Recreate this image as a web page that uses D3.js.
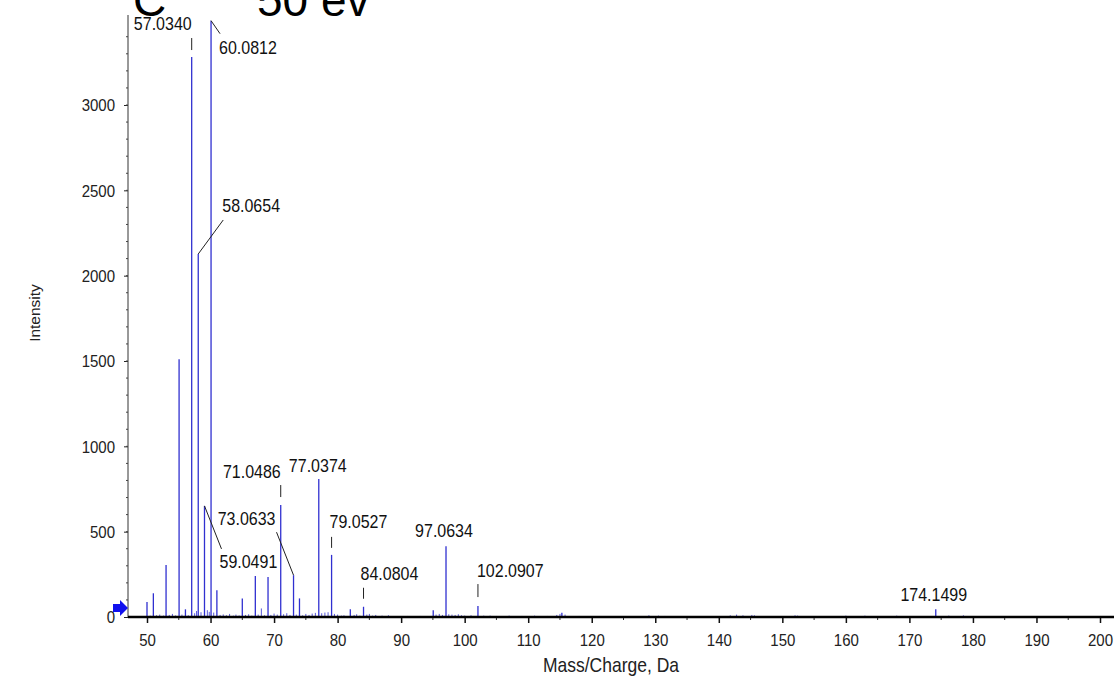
<!DOCTYPE html>
<html>
<head>
<meta charset="utf-8">
<script src="https://cdn.jsdelivr.net/npm/d3@7"></script>
<style>
  body { margin: 0; background: #fff; }
  svg { display: block; font-family: "Liberation Sans", Arial, sans-serif; }
</style>
</head>
<body>
<svg width="1114" height="683"></svg>
<script>
/* spectrum data */

// main peaks: m/z and intensity
var peakMz = [50.0, 51.0, 53.0, 55.05, 56.05, 57.0340, 58.0654, 59.0491, 60.0812, 61.0,
              65.0, 67.05, 69.05, 71.0486, 73.0633, 74.0, 77.0374, 79.0527, 82.0, 84.0804,
              95.05, 97.0634, 102.0907, 115.3, 174.1499];
var peakInt = [88, 139, 305, 1510, 45, 3281, 2127, 651, 3494, 157,
               109, 240, 234, 656, 245, 109, 809, 364, 46, 60,
               39, 415, 64, 25, 45];

// small noise peaks along the baseline
var noiseMz = [50.5, 51.5, 52.0, 52.6, 53.5, 54.0, 54.5, 55.5, 56.5, 57.5, 57.8, 58.5, 59.5, 59.8,
               60.5, 61.5, 62.0, 62.5, 63.0, 63.6, 64.0, 64.5, 65.5, 66.0, 66.5, 67.5, 68.0, 68.5,
               69.5, 70.0, 70.5, 71.5, 72.0, 72.5, 73.5, 74.5, 75.0, 75.5, 76.0, 76.5, 77.5, 78.0,
               78.5, 79.5, 80.0, 80.6, 81.0, 82.6, 83.0, 83.5, 84.6, 85.0, 85.5, 86.0, 87.0, 88.0,
               91.0, 93.0, 95.5, 96.0, 96.5, 97.5, 98.0, 98.5, 99.0, 99.5, 100.0, 101.0, 103.0,
               104.0, 105.0, 107.0, 109.0, 111.0, 113.0, 114.5, 115.0, 115.8, 118.0, 129.0, 130.5,
               131.5, 141.8, 142.8, 143.8, 145.2, 145.6, 152.0, 152.4, 160.0, 163.0, 168.0, 176.2, 178.5];
var noiseInt = [8, 10, 14, 8, 12, 18, 9, 14, 10, 22, 35, 28, 40, 30,
                26, 12, 15, 10, 18, 8, 14, 9, 12, 16, 8, 14, 50, 10,
                12, 20, 14, 16, 22, 12, 14, 10, 18, 12, 20, 24, 22, 26,
                28, 18, 14, 8, 10, 12, 16, 8, 14, 18, 8, 12, 8, 10,
                6, 6, 14, 18, 12, 16, 14, 12, 16, 10, 8, 10, 8,
                8, 6, 8, 6, 8, 6, 12, 18, 14, 6, 10, 8,
                6, 10, 14, 10, 12, 10, 10, 8, 8, 8, 8, 8, 10];

// annotated peaks
var labelMz = [57.0340, 60.0812, 58.0654, 59.0491, 71.0486, 77.0374, 73.0633, 79.0527,
               84.0804, 97.0634, 102.0907, 174.1499];
var labelText = ["57.0340", "60.0812", "58.0654", "59.0491", "71.0486", "77.0374", "73.0633", "79.0527",
                 "84.0804", "97.0634", "102.0907", "174.1499"];

var xTicks = [50, 60, 70, 80, 90, 100, 110, 120, 130, 140, 150, 160, 170, 180, 190, 200];
var yTicks = [0, 500, 1000, 1500, 2000, 2500, 3000];

// label placement relative to the peak top: text offset, anchor, leader segment
var labelLayout = [
  { dx: 0,   dy: -27, anchor: "end",    lead: [0, -19, 0, -7] },
  { dx: 8,   dy: 33,  anchor: "start",  lead: [0, 0, 9, 13] },
  { dx: 24,  dy: -42, anchor: "start",  lead: [0, 0, 25, -34] },
  { dx: 15,  dy: 62,  anchor: "start",  lead: [0, 0, 17, 43] },
  { dx: 0,   dy: -27, anchor: "end",    lead: [0, -20, 0, -8] },
  { dx: -1,  dy: -7,  anchor: "middle", lead: null },
  { dx: -18, dy: -50, anchor: "end",    lead: [0, 0, -17, -43] },
  { dx: -2,  dy: -27, anchor: "start",  lead: [0, -18, 0, -7] },
  { dx: -3,  dy: -27, anchor: "start",  lead: [0, -19, 0, -8] },
  { dx: -2,  dy: -9,  anchor: "middle", lead: null },
  { dx: -1,  dy: -29, anchor: "start",  lead: [0, -22, 0, -9] },
  { dx: -2,  dy: -8,  anchor: "middle", lead: null }
];

var svg = d3.select("svg");
var blue = "#3030d0";
var stretch = "scale(1,1.13)"; // the source image text is a bit taller than wide

var xScale = d3.scaleLinear()
	.domain([50, 200])
	.range([147, 1100]);

var yScale = d3.scaleLinear()
	.domain([0, 3000])
	.range([617, 105]);

var yTop = 15;

// titles
svg.append("text").attr("x", 133).attr("y", 16)
	.attr("font-size", 46).attr("fill", "#000").text("C");
svg.append("text").attr("x", 257).attr("y", 16)
	.attr("font-size", 46).attr("fill", "#000").text("50 ev");

// noise
var noise = noiseMz.map(function(m, i) { return { mz: m, v: noiseInt[i] }; });
svg.append("g").selectAll("line").data(noise).enter().append("line")
	.attr("x1", function(d) { return xScale(d.mz); })
	.attr("x2", function(d) { return xScale(d.mz); })
	.attr("y1", yScale(0))
	.attr("y2", function(d) { return yScale(d.v); })
	.attr("stroke", blue).attr("stroke-width", 1).attr("opacity", 0.8);

// peaks
var peaks = peakMz.map(function(m, i) { return { mz: m, v: peakInt[i] }; });
svg.append("g").selectAll("line").data(peaks).enter().append("line")
	.attr("x1", function(d) { return xScale(d.mz); })
	.attr("x2", function(d) { return xScale(d.mz); })
	.attr("y1", yScale(0))
	.attr("y2", function(d) { return yScale(d.v); })
	.attr("stroke", blue).attr("stroke-width", 1.3);

// y axis
var yAxis = d3.axisLeft(yScale).tickValues(yTicks).tickFormat(d3.format("d")).tickSize(4).tickPadding(9);
var gy = svg.append("g").attr("transform", "translate(128,0)").call(yAxis);
gy.select(".domain").remove();
gy.selectAll("text").attr("font-size", 15).attr("font-family", "Liberation Sans, Arial, sans-serif")
	.attr("fill", "#222").attr("dy", "0.34em").attr("transform", stretch);
gy.selectAll(".tick line").attr("stroke", "#222");
svg.append("line").attr("x1", 128).attr("x2", 128).attr("y1", yTop).attr("y2", yScale(0))
	.attr("stroke", "#333").attr("stroke-width", 1);
// minor y ticks
svg.append("g").selectAll("line").data(d3.range(100, 3500, 100)).enter().append("line")
	.attr("x1", 126).attr("x2", 128)
	.attr("y1", function(d) { return yScale(d); })
	.attr("y2", function(d) { return yScale(d); })
	.attr("stroke", "#444");

// x axis
var xAxis = d3.axisBottom(xScale).tickValues(xTicks).tickSize(6).tickPadding(9);
var gx = svg.append("g").attr("transform", "translate(0," + yScale(0) + ")").call(xAxis);
gx.select(".domain").remove();
gx.selectAll("text").attr("font-size", 15).attr("font-family", "Liberation Sans, Arial, sans-serif")
	.attr("fill", "#222").attr("transform", stretch);
gx.selectAll(".tick line").attr("stroke", "#111").attr("stroke-width", 1.5);
svg.append("g").selectAll("line").data(d3.range(55, 205, 10)).enter().append("line")
	.attr("x1", function(d) { return xScale(d); })
	.attr("x2", function(d) { return xScale(d); })
	.attr("y1", yScale(0)).attr("y2", yScale(0) + 3)
	.attr("stroke", "#333");
svg.append("line").attr("x1", 128).attr("x2", 1114).attr("y1", yScale(0)).attr("y2", yScale(0))
	.attr("stroke", "#000").attr("stroke-width", 2.5);

// zero marker arrow
var ay = yScale(0) - 9;
svg.append("path")
	.attr("d", "M113," + (ay - 4) + "H120V" + (ay - 8) + "L128," + ay + "L120," + (ay + 8) + "V" + (ay + 4) + "H113Z")
	.attr("fill", "#1010ee");

// axis titles
svg.append("text").attr("transform", "translate(40,313) rotate(-90)")
	.attr("text-anchor", "middle").attr("font-size", 15.5).attr("fill", "#222").text("Intensity");
svg.append("text").attr("transform", "translate(611,672) " + stretch)
	.attr("text-anchor", "middle").attr("font-size", 17.5).attr("fill", "#222").text("Mass/Charge, Da");

// annotations
var ann = labelMz.map(function(m, i) {
	var j = peakMz.indexOf(m);
	return { px: xScale(m), py: yScale(peakInt[j]), text: labelText[i], lay: labelLayout[i] };
});
var ga = svg.append("g");
ann.forEach(function(a) {
	if (a.lay.lead) {
		ga.append("line")
			.attr("x1", a.px + a.lay.lead[0]).attr("y1", a.py + a.lay.lead[1])
			.attr("x2", a.px + a.lay.lead[2]).attr("y2", a.py + a.lay.lead[3])
			.attr("stroke", "#222").attr("stroke-width", 1);
	}
	ga.append("text")
		.attr("transform", "translate(" + (a.px + a.lay.dx) + "," + (a.py + a.lay.dy) + ") " + stretch)
		.attr("text-anchor", a.lay.anchor)
		.attr("font-size", 16).attr("fill", "#111")
		.text(a.text);
});
</script>
</body>
</html>
